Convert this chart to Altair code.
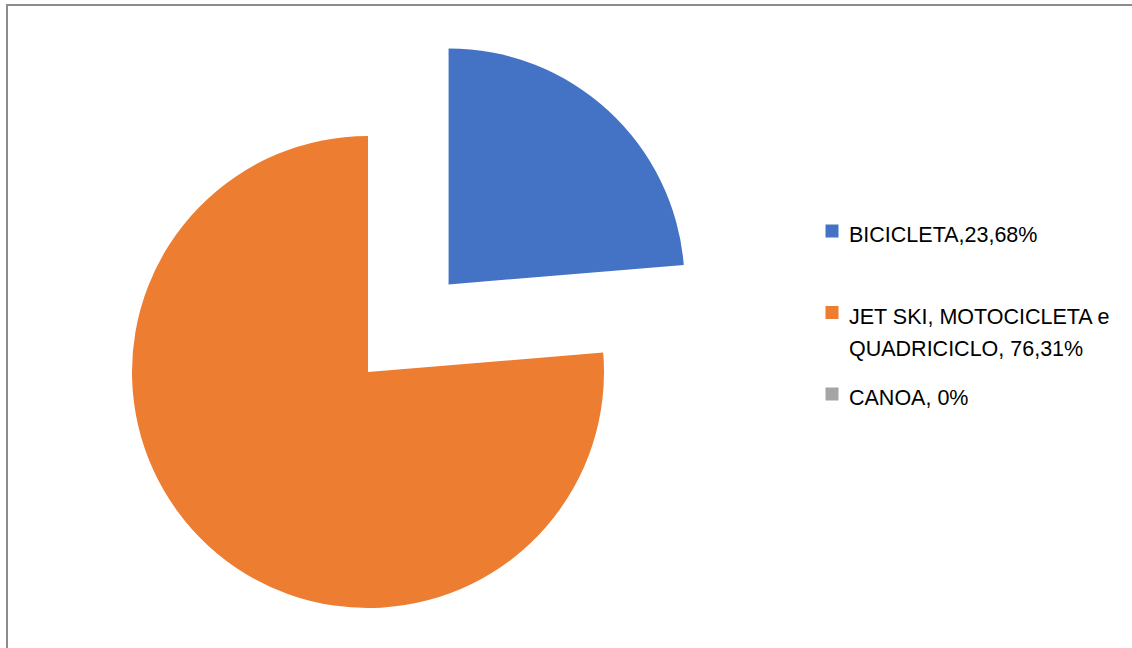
import math
import altair as alt
import pandas as pd

# ---- data ----
categories = ["BICICLETA", "JET SKI, MOTOCICLETA e QUADRICICLO", "CANOA"]
values = [23.68, 76.31, 0.0]
legend_labels = ["BICICLETA,23,68%", "JET SKI, MOTOCICLETA e\nQUADRICICLO, 76,31%", "CANOA, 0%"]
colors = ["#4472C4", "#ED7D31", "#A5A5A5"]

# ---- layout / style ----
CX, CY, R = 368, 372, 236
EXPLODE = 119
FONT = "Liberation Sans"

total = sum(values)
starts, ends = [], []
acc = 0.0
for v in values:
    starts.append(acc / total * 2 * math.pi)
    acc += v
    ends.append(acc / total * 2 * math.pi)

df = pd.DataFrame({"cat": categories, "value": values, "label": legend_labels,
                   "start": starts, "end": ends})

mid_blue = (starts[0] + ends[0]) / 2
bx = CX + EXPLODE * math.sin(mid_blue)
by = CY - EXPLODE * math.cos(mid_blue)

color = alt.Color("cat:N", scale=alt.Scale(domain=categories, range=colors), legend=None)

base = alt.Chart(df)

blue = base.transform_filter(alt.datum.cat == categories[0]).mark_arc(radius=R).encode(
    theta=alt.Theta("start:Q", scale=None), theta2="end:Q", color=color,
    x=alt.value(bx), y=alt.value(by))
rest = base.transform_filter(alt.datum.cat != categories[0]).mark_arc(radius=R).encode(
    theta=alt.Theta("start:Q", scale=None), theta2="end:Q", color=color,
    x=alt.value(CX), y=alt.value(CY))

ypos = alt.Y("cat:N", sort=categories, axis=None,
             scale=alt.Scale(type="point", domain=categories, range=[231, 394], padding=0))

leg_sq = base.mark_square(size=169, opacity=1).encode(x=alt.value(832), y=ypos, color=color)
leg_tx = base.mark_text(align="left", baseline="alphabetic", dx=17, dy=11, lineBreak="\n",
                        lineHeight=32, font=FONT, fontSize=21.5, color="#000000").encode(
    x=alt.value(832), y=ypos, text="label:N")

dummy = alt.Chart(pd.DataFrame({"a": [0]}))
left_rule = dummy.mark_rule(color="#8C8C8C", strokeWidth=2).encode(
    x=alt.value(7), y=alt.value(4), y2=alt.value(648))
top_rule = dummy.mark_rule(color="#8C8C8C", strokeWidth=2).encode(
    x=alt.value(6), x2=alt.value(1132), y=alt.value(5))

chart = alt.layer(rest, blue, leg_sq, leg_tx, left_rule, top_rule).properties(
    width=1132, height=648, padding=0, autosize=alt.AutoSizeParams(type="none"),
    background="white"
).configure_view(stroke=None)

chart.save("out.html", embed_options={"renderer": "svg", "actions": False})
